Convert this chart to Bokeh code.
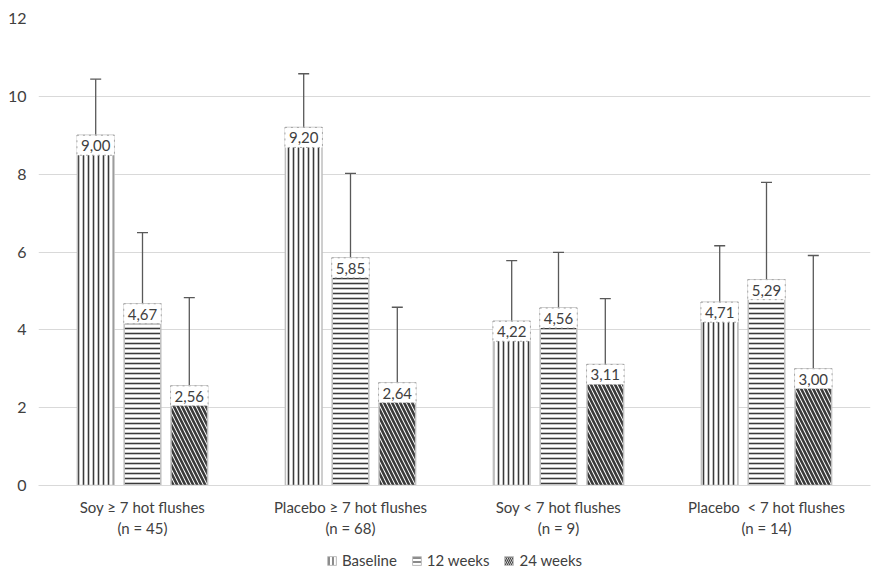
from bokeh.plotting import figure
from bokeh.models import ColumnDataSource, FactorRange, Whisker, TeeHead, Legend, LegendItem
from bokeh.layouts import column
from bokeh.transform import dodge
from bokeh.core.properties import value
from bokeh.embed import file_html
from bokeh.resources import INLINE

groups = ["Soy \u2265 7 hot flushes\n(n = 45)", "Placebo \u2265 7 hot flushes\n(n = 68)",
          "Soy < 7 hot flushes\n(n = 9)", "Placebo \u00a0< 7 hot flushes\n(n = 14)"]
series = ["Baseline", "12 weeks", "24 weeks"]
baseline = [9.00, 9.20, 4.22, 4.71]
weeks12 = [4.67, 5.85, 4.56, 5.29]
weeks24 = [2.56, 2.64, 3.11, 3.00]
err_top_baseline = [10.44, 10.58, 5.78, 6.16]
err_top_12 = [6.50, 8.02, 5.99, 7.79]
err_top_24 = [4.83, 4.58, 4.80, 5.91]

FONT = "Lato"
TXT = "#404040"

p = figure(x_range=FactorRange(*groups, range_padding=0), y_range=(0, 12),
           frame_width=832, frame_height=467,
           output_backend="svg", toolbar_location=None,
           min_border_left=38, min_border_top=18, min_border_right=2, min_border_bottom=64)
p.outline_line_color = None
p.background_fill_color = "white"

patterns = ["vertical_line", "horizontal_line", "left_diagonal_line"]
scales = [5.0, 5.0, 8.0]
weights = [1.6, 1.6, 2.6]
offsets = [-0.225, 0.0, 0.225]
vals = [baseline, weeks12, weeks24]
tops = [err_top_baseline, err_top_12, err_top_24]

# legend-only figure below the chart
pl = figure(width=872, height=22, output_backend="svg", toolbar_location=None,
            x_range=(0, 1), y_range=(0, 1), min_border=0)
pl.axis.visible = False
pl.grid.visible = False
pl.outline_line_color = None

items = []
for i in range(3):
    src = ColumnDataSource(dict(g=groups, v=vals[i], top=tops[i],
                                lab=[f"{x:.2f}".replace(".", ",") for x in vals[i]]))
    style = dict(fill_color="white", line_color="#bfbfbf", line_width=1.5,
                 hatch_pattern=patterns[i], hatch_color="#3a3a3a",
                 hatch_scale=scales[i], hatch_weight=weights[i])
    p.vbar(x=dodge("g", offsets[i], range=p.x_range), top="v", width=0.176, source=src, **style)
    # hidden renderer (outside the legend figure's range) that only supplies the legend glyph
    lr = pl.vbar(x=[0.5], bottom=[-3], top=[-2], width=0.1,
                 **dict(style, hatch_scale=4.0, hatch_weight=1.2, line_width=1))
    items.append(LegendItem(label=series[i], renderers=[lr]))
    w = Whisker(base=dodge("g", offsets[i], range=p.x_range), lower="v", upper="top", source=src,
                line_color="#595959", line_width=1.3,
                upper_head=TeeHead(size=11, line_color="#595959", line_width=1.3), lower_head=None)
    p.add_layout(w)
    p.text(x=dodge("g", offsets[i], range=p.x_range), y="v", text="lab", source=src,
           text_align="center", text_baseline="top", y_offset=0,
           text_font=value(FONT), text_font_size="15px", text_color=TXT,
           background_fill_color="white", border_line_color="#a6a6a6",
           border_line_dash="dotted", padding=dict(left=4, right=4, top=5, bottom=4))

p.xgrid.grid_line_color = None
p.ygrid.grid_line_color = "#d9d9d9"
p.ygrid.grid_line_width = 1.2
p.yaxis.ticker = [0, 2, 4, 6, 8, 10, 12]
p.yaxis.axis_line_color = None
p.yaxis.major_tick_line_color = None
p.yaxis.minor_tick_line_color = None
p.yaxis.major_label_text_font = FONT
p.yaxis.major_label_text_font_size = "16px"
p.yaxis.major_label_text_color = TXT
p.yaxis.major_label_standoff = 6
p.xaxis.axis_line_color = "#d9d9d9"
p.xaxis.major_tick_line_color = None
p.xaxis.minor_tick_line_color = None
p.xaxis.major_label_text_font = FONT
p.xaxis.major_label_text_font_size = "15px"
p.xaxis.major_label_text_color = TXT
p.xaxis.major_label_standoff = 6

legend = Legend(items=items, orientation="horizontal", location="center",
                label_text_font=FONT, label_text_font_size="15px", label_text_color=TXT,
                glyph_width=11, glyph_height=11, spacing=14, label_standoff=5,
                border_line_color=None, background_fill_alpha=0, padding=2, margin=0)
pl.add_layout(legend, "center")

layout = column(p, pl, spacing=0)
open("out.html", "w").write(file_html(layout, INLINE))
